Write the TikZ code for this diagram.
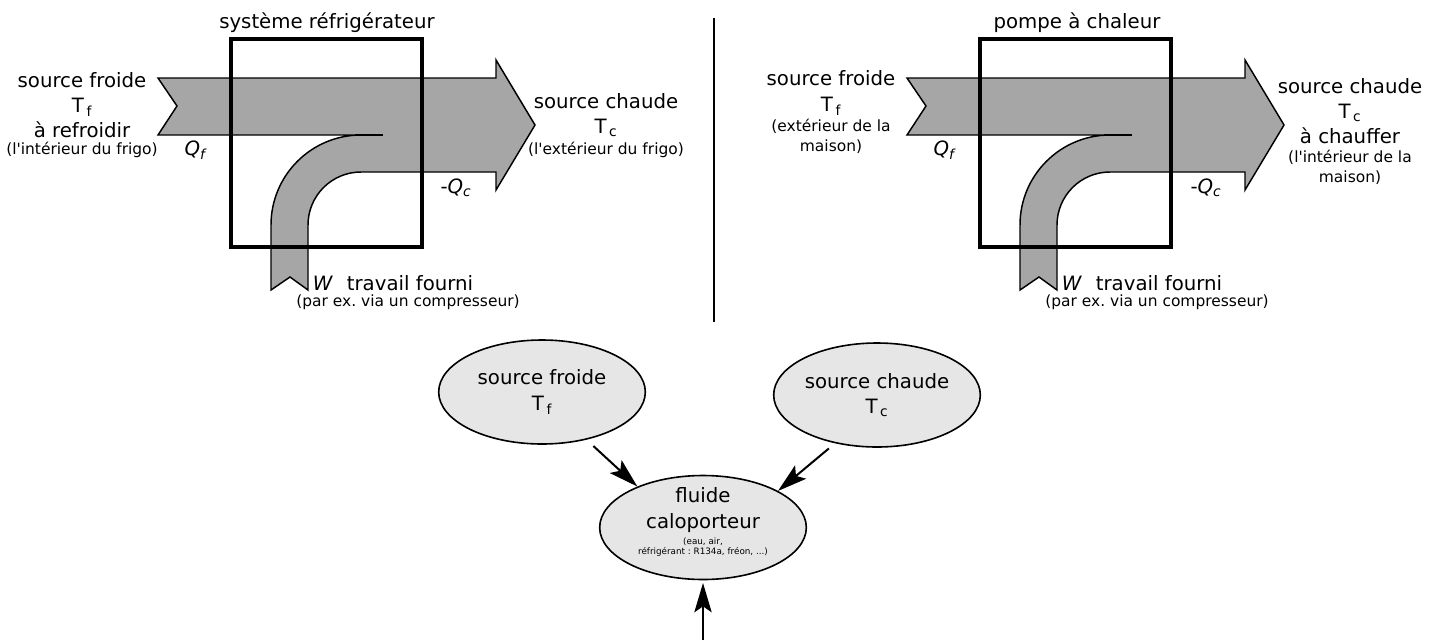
\documentclass[tikz,border=0pt]{standalone}
\usepackage{fontspec}
\setmainfont{DejaVu Sans}
\usepackage{tikz}
\usepackage{xcolor}
\usetikzlibrary{shapes.geometric, arrows.meta}

\definecolor{fluxgray}{HTML}{A6A6A6}
\definecolor{bullegray}{HTML}{E6E6E6}
\frenchspacing

\begin{document}
\begin{tikzpicture}[x=0.75pt, y=-0.75pt,
    lbl/.style={font=\fontsize{14.8}{19}\selectfont, align=center, inner sep=0pt},
    note/.style={font=\fontsize{11.6}{14.8}\selectfont, align=center, inner sep=0pt},
    tinynote/.style={font=\fontsize{6.6}{8}\selectfont, align=center, inner sep=0pt},
    flux/.style={draw, fill=fluxgray, line width=1.1pt, line join=miter},
    cadre/.style={draw, line width=2.3pt},
    bulle/.style={ellipse, draw, fill=bullegray, line width=1.2pt,
      minimum width=155pt, minimum height=78pt, inner sep=0pt},
    fleche/.style={-{Stealth[length=22pt, width=13pt, inset=4.5pt]}, line width=1.5pt}]
  \useasboundingbox (0,0) rectangle (1439,640);

  % refrigerateur
  \draw[flux] (158,78) -- (496,78) -- (496,60) -- (535,125) -- (496,190) -- (496,172) -- (361,172)
    arc[start angle=-90, end angle=-180, radius=53] -- (308,290) -- (290,277) -- (271,290) -- (271,225)
    arc[start angle=180, end angle=270, radius=90] -- (158,135) -- (177,106) -- cycle;
  \draw[line width=1.6pt] (355,135) -- (383,135);
  \draw[cadre] (231,39) rectangle (422,247);

  \node[lbl] (titreL) at (327,23) {système réfrigérateur};
  \node[lbl] (froidL) at (82,105) {source froide\\T\kern2pt\textsubscript{f}\\à refroidir};
  \node[note] (froidLnote) at (82,150) {(l\textquotesingle intérieur du frigo)};
  \node[lbl] (qfL) at (196,150) {\textit{Q}\textsubscript{\textit{f}}};
  \node[lbl] (chaudL) at (606,115) {source chaude\\T\kern2pt\textsubscript{c}};
  \node[note] (chaudLnote) at (606,150) {(l\textquotesingle extérieur du frigo)};
  \node[lbl] (qcL) at (456,188) {-\textit{Q}\textsubscript{\textit{c}}};
  \node[lbl] (wL) at (323,283) {\textit{W}};
  \node[lbl] (travailL) at (410,283) {travail fourni};
  \node[note] (travailLnote) at (408,302) {(par ex. via un compresseur)};

  \draw[line width=1.1pt] (714,18) -- (714,322);

  % pompe a chaleur
  \begin{scope}[shift={(749,0)}]
    \draw[flux] (158,78) -- (496,78) -- (496,60) -- (535,125) -- (496,190) -- (496,172) -- (361,172)
      arc[start angle=-90, end angle=-180, radius=53] -- (308,290) -- (290,277) -- (271,290) -- (271,225)
      arc[start angle=180, end angle=270, radius=90] -- (158,135) -- (177,106) -- cycle;
    \draw[line width=1.6pt] (355,135) -- (383,135);
    \draw[cadre] (231,39) rectangle (422,247);
  \end{scope}

  \node[lbl] (titreR) at (1077,23) {pompe à chaleur};
  \node[lbl] (froidR) at (831,93) {source froide\\T\kern2pt\textsubscript{f}};
  \node[note] (froidRnote) at (831,136) {(extérieur de la\\maison)};
  \node[lbl] (qfR) at (945,150) {\textit{Q}\textsubscript{\textit{f}}};
  \node[lbl] (chaudR) at (1350,111) {source chaude\\T\kern2pt\textsubscript{c}\\à chauffer};
  \node[note] (chaudRnote) at (1350,167) {(l\textquotesingle intérieur de la\\maison)};
  \node[lbl] (qcR) at (1206,188) {-\textit{Q}\textsubscript{\textit{c}}};
  \node[lbl] (wR) at (1072,283) {\textit{W}};
  \node[lbl] (travailR) at (1159,283) {travail fourni};
  \node[note] (travailRnote) at (1157,302) {(par ex. via un compresseur)};

  % fluide caloporteur
  \node[bulle, lbl] (sf) at (542,392) {source froide\\T\kern2pt\textsubscript{f}};
  \node[bulle, lbl] (sc) at (877,395) {source chaude\\T\kern2pt\textsubscript{c}};
  \node[bulle] (fl) at (703,527.5) {};
  \node[lbl] (fltext) at (703,510) {fluide\\caloporteur};
  \node[tinynote] (flnote) at (703,547) {(eau, air,\\réfrigérant : R134a, fréon, ...)};
  \coordinate (bas) at (703,640);

  \draw[fleche, shorten <=7pt] (sf.-47) -- (fl.148);
  \draw[fleche, shorten <=6pt] (sc.-131) -- (fl.26);
  \draw[fleche, shorten >=2pt] (bas) -- (fl.south);
\end{tikzpicture}
\end{document}
